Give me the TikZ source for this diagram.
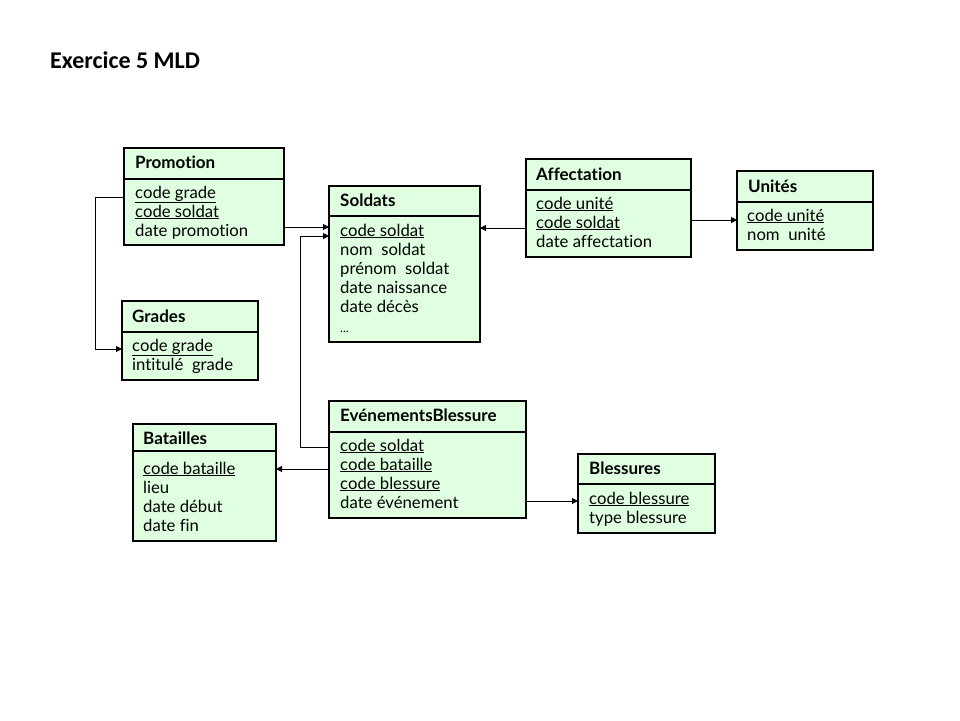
\documentclass[tikz,border=0pt]{standalone}
\usepackage{fontspec}
\setmainfont{Lato}[Ligatures={NoCommon}]
\newfontfamily\titlefont{Carlito}
\usetikzlibrary{arrows.meta}
\definecolor{boxfill}{RGB}{224,255,224}
\tikzset{
  tbl/.style={draw=black, line width=2pt, fill=boxfill, rectangle, anchor=north west, inner sep=0pt, outer sep=0pt},
  sepline/.style={line width=1.2pt},
  hdr/.style={anchor=base west, inner sep=0pt, font=\fontsize{17}{19}\selectfont\bfseries},
  fld/.style={anchor=base west, inner sep=0pt, font=\fontsize{16.7}{19}\selectfont},
  link/.style={line width=1pt, -{Triangle[length=6pt,width=6pt]}},
}
\newcommand{\ul}[1]{\underline{#1}}
\begin{document}
\begin{tikzpicture}[x=1pt,y=-1pt]
\useasboundingbox (0,0) rectangle (960,720);
\fill[white] (0,0) rectangle (960,720);
\node[anchor=base west, inner sep=0pt, font=\titlefont\fontsize{24}{28}\selectfont\bfseries] (title) at (50,68) {Exercice 5 MLD};

% Promotion
\node[tbl, minimum width=160pt, minimum height=97pt] (promo) at (124,148) {};
\draw[sepline] (124,179) -- (284,179);
\node[hdr] (promoH) at (135,168) {Promotion};
\node[fld] (promo1) at (135,198) {\ul{code grade}};
\node[fld] (promo2) at (135,217) {\ul{code soldat}};
\node[fld] (promo3) at (135,236) {date promotion};

% Soldats
\node[tbl, minimum width=151pt, minimum height=156pt] (sold) at (329,186) {};
\draw[sepline] (329,216) -- (480,216);
\node[hdr] (soldH) at (340,206) {Soldats};
\node[fld] (sold1) at (340,236) {\ul{code soldat}};
\node[fld] (sold2) at (340,255) {nom\ \ soldat};
\node[fld] (sold3) at (340,274) {prénom\ \ soldat};
\node[fld] (sold4) at (340,293) {date naissance};
\node[fld] (sold5) at (340,312) {date décès};
\node[fld] (sold6) at (340,332) {\fontsize{12}{14}\selectfont ...};

% Affectation
\node[tbl, minimum width=165pt, minimum height=98pt] (aff) at (526,159) {};
\draw[sepline] (526,190) -- (691,190);
\node[hdr] (affH) at (536,180) {Affectation};
\node[fld] (aff1) at (536,209) {\ul{code unité}};
\node[fld] (aff2) at (536,228) {\ul{code soldat}};
\node[fld] (aff3) at (536,247) {date affectation};

% Unites
\node[tbl, minimum width=136pt, minimum height=79pt] (unit) at (737,171) {};
\draw[sepline] (737,202) -- (873,202);
\node[hdr] (unitH) at (748,192) {Unités};
\node[fld] (unit1) at (747,221) {\ul{code unité}};
\node[fld] (unit2) at (747,240) {nom\ \ unité};

% Grades
\node[tbl, minimum width=136pt, minimum height=79pt] (grad) at (122,301) {};
\draw[sepline] (122,332) -- (258,332);
\node[hdr] (gradH) at (132,322) {Grades};
\node[fld] (grad1) at (132,351) {\ul{code grade}};
\node[fld] (grad2) at (132,370) {intitulé\ \ grade};

% Batailles
\node[tbl, minimum width=143pt, minimum height=117pt] (bat) at (133,424) {};
\draw[sepline] (133,451) -- (276,451);
\node[hdr] (batH) at (143,444) {Batailles};
\node[fld] (bat1) at (143,474) {\ul{code bataille}};
\node[fld] (bat2) at (143,493) {lieu};
\node[fld] (bat3) at (143,512) {date début};
\node[fld] (bat4) at (143,531) {date fin};

% EvenementsBlessure
\node[tbl, minimum width=197pt, minimum height=117pt] (evt) at (329,401) {};
\draw[sepline] (329,432) -- (526,432);
\node[hdr] (evtH) at (340,421) {EvénementsBlessure};
\node[fld] (evt1) at (340,451) {\ul{code soldat}};
\node[fld] (evt2) at (340,470) {\ul{code bataille}};
\node[fld] (evt3) at (340,489) {\ul{code blessure}};
\node[fld] (evt4) at (340,508) {date événement};

% Blessures
\node[tbl, minimum width=137pt, minimum height=79pt] (bles) at (578,454) {};
\draw[sepline] (578,484) -- (715,484);
\node[hdr] (blesH) at (589,474) {Blessures};
\node[fld] (bles1) at (589,504) {\ul{code blessure}};
\node[fld] (bles2) at (589,523) {type blessure};

% Connectors
\coordinate (c1) at (95,197);
\coordinate (c2) at (300,447);
\draw[link] (promo.west |- c1) -- (c1) |- (grad.west |- 0,349);
\draw[link] (promo.east |- 0,227) -- (sold.west |- 0,227);
\draw[link] (evt.west |- c2) -- (c2) |- (sold.west |- 0,236);
\draw[link] (aff.west |- 0,228) -- (sold.east |- 0,228);
\draw[link] (aff.east |- 0,220) -- (unit.west |- 0,220);
\draw[link] (evt.west |- 0,469) -- (bat.east |- 0,469);
\draw[link] (evt.east |- 0,501) -- (bles.west |- 0,501);
\end{tikzpicture}
\end{document}
